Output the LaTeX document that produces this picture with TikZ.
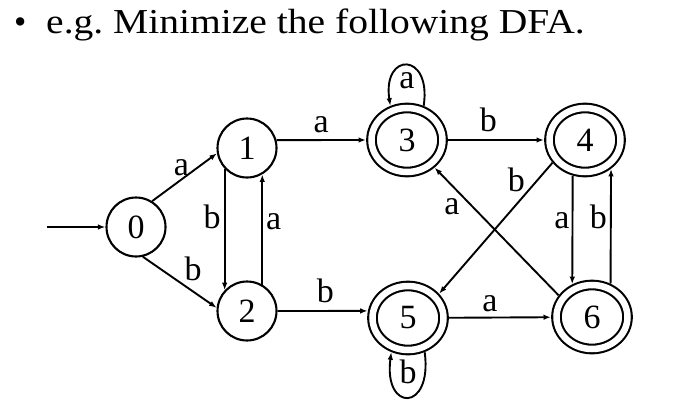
\documentclass[tikz,border=0pt]{standalone}
\usepackage{fontspec}
\setmainfont{Liberation Serif}
\usepackage{graphicx}
\usepackage{tikz}
\usetikzlibrary{positioning,arrows.meta,shapes.geometric}

\tikzset{
	state/.style={circle, draw, line width=2.1pt, minimum size=59pt, inner sep=0pt, font=\fontsize{34}{38}\selectfont},
	accept/.style={ellipse, draw, line width=2.1pt, double, double distance=6.5pt, minimum width=71pt, minimum height=64pt, inner sep=0pt, outer sep=5.5pt, font=\fontsize{34}{38}\selectfont},
	lab/.style={inner sep=1pt, font=\fontsize{34}{38}\selectfont},
	trans/.style={-{Latex[length=7.5pt,width=5.5pt]}, line width=1.9pt}
}

\begin{document}
\begin{tikzpicture}[x=1pt,y=-1pt]
	\useasboundingbox (0,0) rectangle (675,410);
	% heading
	\node[anchor=base west, inner sep=0pt, font=\fontsize{35}{40}\selectfont] (bullet) at (14,33) {•};
	\node[anchor=base west, inner sep=0pt, font=\fontsize{35}{40}\selectfont] (title) at (46,33) {\scalebox{1.13}[1]{e.g.\ Minimize the following DFA.}};
	% states
	\node[state] (n0) at (136,227) {0};
	\node[state] (n1) at (247,148) {1};
	\node[state] (n2) at (247,311) {2};
	\node[accept] (n3) at (407,140) {3};
	\node[accept] (n4) at (585,140) {4};
	\node[accept] (n5) at (408,318) {5};
	\node[accept] (n6) at (592,317) {6};
	\coordinate (start) at (47,227);
	% transitions
	\draw[trans] (start) -- (n0);
	\draw[trans] (n0.58) -- node[lab, pos=0.45, above=2pt] {a} (n1.190);
	\draw[trans] (n0.-77) -- node[lab, pos=0.68, above=9pt] {b} (n2.174);
	\draw[trans] (n1.223) -- node[lab, pos=0.40, left=2pt] {b} (n2.137);
	\draw[trans] (n2.60) -- node[lab, pos=0.57, right=2pt] {a} (n1.300);
	\draw[trans] (n1.15) -- node[lab, above=5pt] {a} (n3.west);
	\draw[trans] (n2.east) -- node[lab, pos=0.53, above=6pt] {b} (n5.170);
	\draw[trans] (n3) -- node[lab, pos=0.42, above=6pt] {b} (n4);
	\draw[trans] (n5) -- node[lab, pos=0.4, above=4pt] {a} (n6);
	\draw[trans] (n4.251) -- node[lab, pos=0.41, left=1pt] {a} (n6.121);
	\draw[trans] (n6.61) -- node[lab, pos=0.58, left=2pt] {b} (n4.312);
	\draw[trans] (n4.215) -- node[lab, pos=0.13, left=11pt] {b} (n5.38);
	\draw[trans] (n6.147) -- node[lab, pos=0.695, left=11pt] {a} (n3.315);
	% loops
	\draw[trans] (n3.64) .. controls +(8,-54) and +(-8,-54) .. (n3.116) node[lab, midway, below=5pt] {a};
	\draw[trans] (n5.-64) .. controls +(8,60) and +(-8,60) .. (n5.244) node[lab, midway, above=11pt] {b};
\end{tikzpicture}
\end{document}
